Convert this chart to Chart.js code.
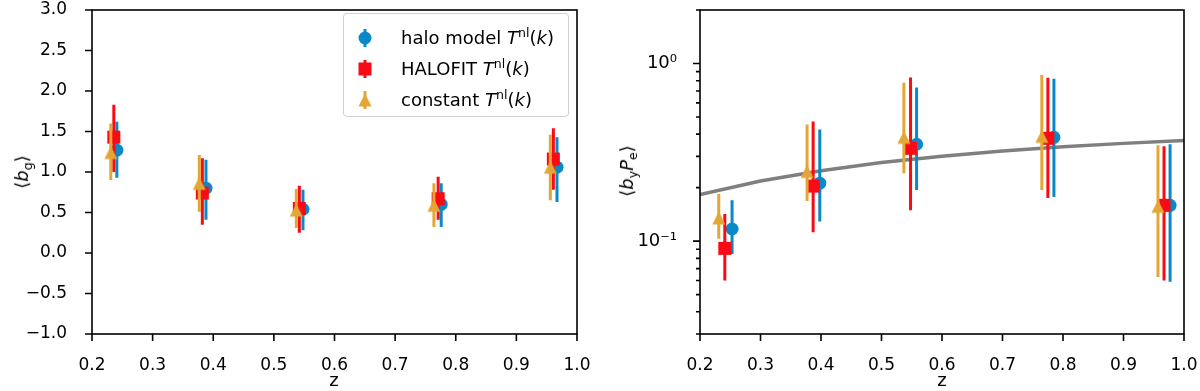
<!DOCTYPE html>
<html><head><meta charset="utf-8">
<script src="https://cdn.jsdelivr.net/npm/chart.js@4/dist/chart.umd.min.js"></script>
<style>
html,body{margin:0;padding:0;background:#fff;}
#wrap{position:relative;width:1200px;height:391px;overflow:hidden;font-family:'DejaVu Sans',sans-serif;color:#000;}
canvas{position:absolute;top:0;}
.t{position:absolute;white-space:nowrap;font-size:18px;line-height:1;}
.rot{transform:translate(-50%,-50%) rotate(-90deg);}
.cx{transform:translate(-50%,-50%);}
.sup{font-size:0.7em;position:relative;top:-0.55em;}
.sub{font-size:0.7em;position:relative;top:0.3em;}
#legend{position:absolute;left:343px;top:13px;width:224px;height:102px;border:1px solid #d0d0d0;border-radius:4px;background:rgba(255,255,255,0.85);}
.row{position:absolute;left:0;height:24px;}
.row svg{position:absolute;left:9px;top:0;}
.row > .txt{position:absolute;left:57px;top:3px;font-size:18px;white-space:nowrap;line-height:1;}
</style></head>
<body>
<div id="wrap">
<canvas id="c1" width="600" height="391" style="left:0"></canvas>
<canvas id="c2" width="600" height="391" style="left:600px"></canvas>
<div class="t rot" style="left:22px;top:172px;">⟨<i>b</i><span class="sub">g</span>⟩</div>
<div class="t rot" style="left:627px;top:171px;">⟨<i>b</i><span class="sub">y</span><i>P</i><span class="sub">e</span>⟩</div>
<div class="t cx" style="left:334px;top:380px;">z</div>
<div class="t cx" style="left:942px;top:380px;">z</div>
<div id="legend">
 <div class="row" style="top:12px;"><svg width="24" height="24"><line x1="12" y1="3" x2="12" y2="21" stroke="#0a89c8" stroke-width="3"/><circle cx="12" cy="12" r="6.5" fill="#0a89c8"/></svg><span class="txt">halo model <i>T</i><span class="sup">nl</span>(<i>k</i>)</span></div>
 <div class="row" style="top:43px;"><svg width="24" height="24"><line x1="12" y1="3" x2="12" y2="21" stroke="#fa0a14" stroke-width="3"/><rect x="5.5" y="5.5" width="13" height="13" fill="#fa0a14"/></svg><span class="txt">HALOFIT <i>T</i><span class="sup">nl</span>(<i>k</i>)</span></div>
 <div class="row" style="top:74px;"><svg width="24" height="24"><line x1="12" y1="3" x2="12" y2="21" stroke="#e4a634" stroke-width="3"/><polygon points="12,5.5 5.5,18.5 18.5,18.5" fill="#e4a634"/></svg><span class="txt">constant <i>T</i><span class="sup">nl</span>(<i>k</i>)</span></div>
</div>
</div>
<script>
// ---------- tick values / labels ----------
const zTicks = [0.2,0.3,0.4,0.5,0.6,0.7,0.8,0.9,1.0];
const zTickLabels = ['0.2','0.3','0.4','0.5','0.6','0.7','0.8','0.9','1.0'];
const bgTicks = [-1.0,-0.5,0.0,0.5,1.0,1.5,2.0,2.5,3.0];
const bgTickLabels = ['\u22121.0','\u22120.5','0.0','0.5','1.0','1.5','2.0','2.5','3.0'];
const pMajorTicks = [0.1,1];
const pMajorLabels = ['10\u207B\u00B9','10\u2070'];
const pMinorTicks = [0.03,0.04,0.05,0.06,0.07,0.08,0.09,0.2,0.3,0.4,0.5,0.6,0.7,0.8,0.9,2];

// ---------- left panel: <b_g> ----------
const bgZHalo  = [0.241,0.388,0.548,0.776,0.967];
const bgHalo   = [1.27,0.80,0.54,0.60,1.06];
const bgHaloLo = [0.93,0.41,0.28,0.32,0.63];
const bgHaloHi = [1.62,1.15,0.78,0.86,1.43];

const bgZFit   = [0.236,0.382,0.542,0.771,0.961];
const bgFit    = [1.43,0.74,0.55,0.67,1.16];
const bgFitLo  = [1.00,0.35,0.25,0.41,0.78];
const bgFitHi  = [1.83,1.17,0.83,0.94,1.54];

const bgZConst   = [0.231,0.377,0.537,0.764,0.956];
const bgConst    = [1.24,0.86,0.53,0.59,1.06];
const bgConstLo  = [0.90,0.51,0.31,0.32,0.65];
const bgConstHi  = [1.60,1.21,0.79,0.86,1.46];

// ---------- right panel: <b_y P_e> ----------
const pZHalo  = [0.253,0.398,0.558,0.785,0.977];
const pHalo   = [0.117,0.212,0.351,0.384,0.159];
const pHaloLo = [0.0845,0.129,0.194,0.177,0.059];
const pHaloHi = [0.170,0.425,0.733,0.82,0.351];

const pZFit   = [0.241,0.387,0.548,0.775,0.967];
const pFit    = [0.091,0.204,0.333,0.379,0.159];
const pFitLo  = [0.060,0.112,0.149,0.175,0.060];
const pFitHi  = [0.142,0.472,0.834,0.83,0.342];

const pZConst  = [0.231,0.377,0.537,0.765,0.957];
const pConst   = [0.135,0.247,0.384,0.389,0.157];
const pConstLo = [0.103,0.168,0.241,0.194,0.0628];
const pConstHi = [0.184,0.454,0.78,0.86,0.346];

const modelZ = [0.2,0.3,0.4,0.5,0.6,0.7,0.8,0.9,1.0];
const modelP = [0.183,0.218,0.249,0.277,0.300,0.322,0.340,0.355,0.369];

// ---------- styles ----------
const BLUE = '#0a89c8', RED = '#fa0a14', ORANGE = '#e4a634', GREY = '#7f7f7f';
Chart.defaults.font.family = "'DejaVu Sans', sans-serif";
Chart.defaults.font.size = 17;
Chart.defaults.color = '#000';

function triImg(color){
  const c = document.createElement('canvas'); c.width = 16; c.height = 16;
  const g = c.getContext('2d'); g.fillStyle = color;
  g.beginPath(); g.moveTo(8,1.5); g.lineTo(1.5,14.5); g.lineTo(14.5,14.5); g.closePath(); g.fill();
  return c;
}
const TRI = triImg(ORANGE);

function pts(xs, ys){ return xs.map((x,i)=>({x:x, y:ys[i]})); }

const errorBars = {
  id:'errorBars',
  beforeDatasetDraw(chart, args){
    const ds = chart.data.datasets[args.index];
    if(!ds.errLo) return;
    const xs = chart.scales.x, ys = chart.scales.y, ctx = chart.ctx;
    ctx.save();
    ctx.strokeStyle = ds.backgroundColor; ctx.lineWidth = 3; ctx.lineCap = 'butt';
    ctx.beginPath();
    ds.data.forEach((p,i)=>{
      const x = xs.getPixelForValue(p.x);
      ctx.moveTo(x, ys.getPixelForValue(ds.errLo[i]));
      ctx.lineTo(x, ys.getPixelForValue(ds.errHi[i]));
    });
    ctx.stroke(); ctx.restore();
  }
};

const frameTicks = {
  id:'frameTicks',
  afterDraw(chart){
    const ctx = chart.ctx, a = chart.chartArea;
    ctx.save();
    ctx.strokeStyle = '#000';
    ctx.lineWidth = 1.6;
    ctx.strokeRect(a.left, a.top, a.right-a.left, a.bottom-a.top);
    const xs = chart.scales.x, ys = chart.scales.y;
    ctx.beginPath();
    xs.ticks.forEach(t=>{ const x = xs.getPixelForValue(t.value); ctx.moveTo(x,a.bottom); ctx.lineTo(x,a.bottom+7); });
    ys.ticks.forEach(t=>{
      const y = ys.getPixelForValue(t.value);
      const minor = ys.options.minorSet && ys.options.minorSet.includes(t.value);
      ctx.moveTo(a.left,y); ctx.lineTo(a.left-(minor?4:7),y);
    });
    ctx.stroke();
    ctx.restore();
  }
};

function xScale(){
  return {
    type:'linear', min:0.2, max:1.0,
    grid:{display:false}, border:{display:false},
    afterBuildTicks(s){ s.ticks = zTicks.map(v=>({value:v})); },
    ticks:{ padding:13, autoSkip:false, maxRotation:0, callback:(v,i)=>zTickLabels[i] },
    afterFit(s){ s.height = 57; s.paddingLeft = 0; s.paddingRight = 0; }
  };
}

const common = {
  responsive:false, animation:false, devicePixelRatio:1,
  plugins:{legend:{display:false}, tooltip:{enabled:false}},
  events:[]
};

new Chart(document.getElementById('c1'), {
  type:'scatter',
  data:{datasets:[
    {label:'halo model', data:pts(bgZHalo,bgHalo), errLo:bgHaloLo, errHi:bgHaloHi, backgroundColor:BLUE, borderColor:BLUE, borderWidth:0, pointStyle:'circle', pointRadius:6.5, order:3},
    {label:'HALOFIT', data:pts(bgZFit,bgFit), errLo:bgFitLo, errHi:bgFitHi, backgroundColor:RED, borderColor:RED, borderWidth:0, pointStyle:'rect', pointRadius:9.2, order:2},
    {label:'constant', data:pts(bgZConst,bgConst), errLo:bgConstLo, errHi:bgConstHi, backgroundColor:ORANGE, borderColor:ORANGE, borderWidth:0, pointStyle:TRI, pointRadius:8, order:1}
  ]},
  options:Object.assign({}, common, {
    layout:{padding:{top:10,right:23,left:0,bottom:0}},
    scales:{
      x:xScale(),
      y:{
        type:'linear', min:-1, max:3,
        grid:{display:false}, border:{display:false},
        afterBuildTicks(s){ s.ticks = bgTicks.map(v=>({value:v})); },
        ticks:{ padding:17, autoSkip:false, callback:(v,i)=>bgTickLabels[i] },
        afterFit(s){ s.width = 92; s.paddingTop = 0; s.paddingBottom = 0; }
      }
    }
  }),
  plugins:[errorBars, frameTicks]
});

const pTicksAll = pMinorTicks.concat(pMajorTicks).sort((a,b)=>a-b);
new Chart(document.getElementById('c2'), {
  type:'scatter',
  data:{datasets:[
    {type:'line', label:'model', data:pts(modelZ,modelP), borderColor:GREY, backgroundColor:GREY, borderWidth:3.5, pointRadius:0, showLine:true, fill:false, tension:0, order:4},
    {label:'halo model', data:pts(pZHalo,pHalo), errLo:pHaloLo, errHi:pHaloHi, backgroundColor:BLUE, borderColor:BLUE, borderWidth:0, pointStyle:'circle', pointRadius:6.5, order:3},
    {label:'HALOFIT', data:pts(pZFit,pFit), errLo:pFitLo, errHi:pFitHi, backgroundColor:RED, borderColor:RED, borderWidth:0, pointStyle:'rect', pointRadius:9.2, order:2},
    {label:'constant', data:pts(pZConst,pConst), errLo:pConstLo, errHi:pConstHi, backgroundColor:ORANGE, borderColor:ORANGE, borderWidth:0, pointStyle:TRI, pointRadius:8, order:1}
  ]},
  options:Object.assign({}, common, {
    layout:{padding:{top:10,right:16,left:0,bottom:0}},
    scales:{
      x:xScale(),
      y:{
        type:'logarithmic', min:0.03, max:2,
        minorSet:pMinorTicks,
        grid:{display:false}, border:{display:false},
        afterBuildTicks(s){ s.ticks = pTicksAll.map(v=>({value:v})); },
        ticks:{ padding:15, autoSkip:false, font:{size:18}, callback:(v)=>{ const k = pMajorTicks.indexOf(v); return k>=0 ? pMajorLabels[k] : ''; } },
        afterFit(s){ s.width = 100; s.paddingTop = 0; s.paddingBottom = 0; }
      }
    }
  }),
  plugins:[errorBars, frameTicks]
});
</script>
</body></html>
